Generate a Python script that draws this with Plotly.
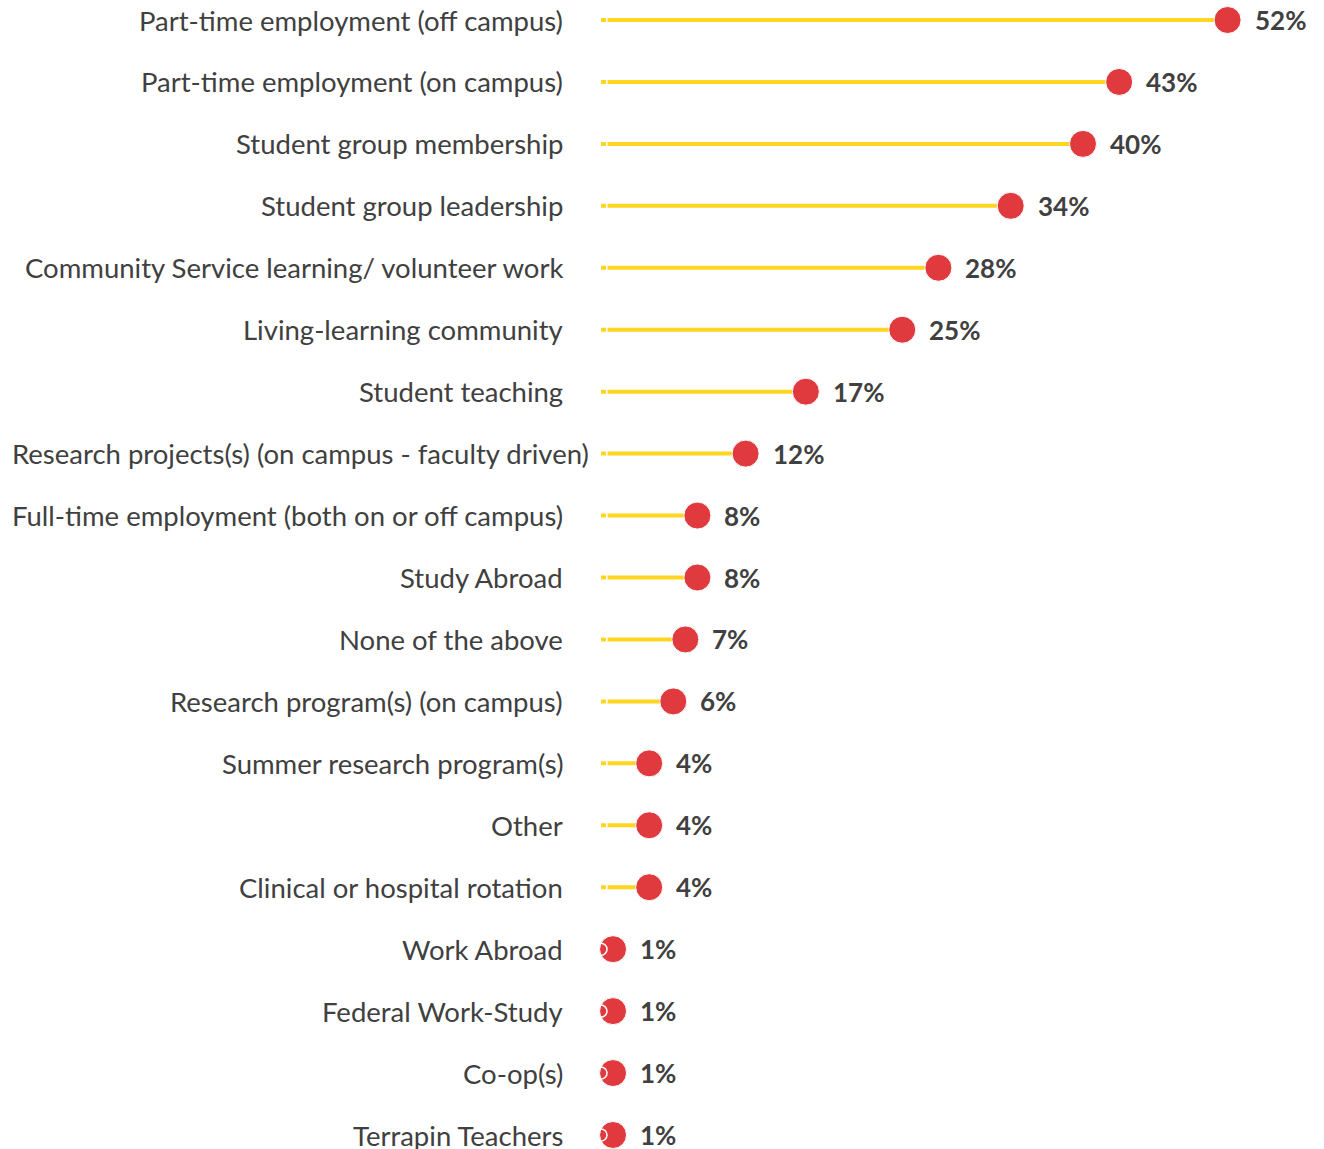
import plotly.graph_objects as go

categories = [
    "Part-time employment (off campus)",
    "Part-time employment (on campus)",
    "Student group membership",
    "Student group leadership",
    "Community Service learning/ volunteer work",
    "Living-learning community",
    "Student teaching",
    "Research projects(s) (on campus - faculty driven)",
    "Full-time employment (both on or off campus)",
    "Study Abroad",
    "None of the above",
    "Research program(s) (on campus)",
    "Summer research program(s)",
    "Other",
    "Clinical or hospital rotation",
    "Work Abroad",
    "Federal Work-Study",
    "Co-op(s)",
    "Terrapin Teachers",
]
values = [52, 43, 40, 34, 28, 25, 17, 12, 8, 8, 7, 6, 4, 4, 4, 1, 1, 1, 1]
value_labels = ["52%", "43%", "40%", "34%", "28%", "25%", "17%", "12%", "8%", "8%",
                "7%", "6%", "4%", "4%", "4%", "1%", "1%", "1%", "1%"]

YELLOW = "#FFD520"
RED = "#E0393E"
TEXT = "#404040"
FONT = "Lato"
MAX_LABEL_CHARS = 45  # labels longer than this overflow the label area and get left-aligned

ys = list(range(len(categories)))

lx, ly = [], []
for v, y in zip(values, ys):
    lx += [0, v, None]
    ly += [y, y, None]

fig = go.Figure()
fig.add_trace(go.Scatter(x=lx, y=ly, mode="lines",
                         line=dict(color=YELLOW, width=4),
                         hoverinfo="skip", showlegend=False, cliponaxis=False))
fig.add_trace(go.Scatter(x=values, y=ys, mode="markers",
                         marker=dict(color=RED, size=27, line=dict(color="white", width=1)),
                         showlegend=False, cliponaxis=False))
fig.add_trace(go.Scatter(x=[0] * len(ys), y=ys, mode="markers",
                         marker=dict(color="rgba(0,0,0,0)", size=12,
                                     line=dict(color="white", width=1.5)),
                         hoverinfo="skip", showlegend=False, cliponaxis=False))

for v, y, t in zip(values, ys, value_labels):
    fig.add_annotation(x=v, y=y, text="<b>" + t + "</b>", showarrow=False,
                       xanchor="left", xshift=25,
                       font=dict(family=FONT, size=26, color=TEXT))

for c, y in zip(categories, ys):
    if len(c) > MAX_LABEL_CHARS:
        fig.add_annotation(xref="paper", x=0, y=y, text=c, showarrow=False,
                           xanchor="left", xshift=-591,
                           font=dict(family=FONT, size=27.5, color=TEXT))
    else:
        fig.add_annotation(xref="paper", x=0, y=y, text=c, showarrow=False,
                           xanchor="right", xshift=-36,
                           font=dict(family=FONT, size=27.5, color=TEXT))

fig.update_layout(
    width=1324, height=1149,
    margin=dict(l=601, r=0, t=0, b=0, autoexpand=False),
    plot_bgcolor="white", paper_bgcolor="white",
    xaxis=dict(range=[0, 60], showgrid=False, zeroline=False, automargin=False,
               showticklabels=False, showline=False, ticks=""),
    yaxis=dict(range=[18.226, -0.323], showticklabels=False,
               showgrid=False, zeroline=False, showline=False, ticks="",
               automargin=False),
)

fig.write_html("out.html", config={"displayModeBar": False},
               post_script="document.body.style.margin='0';document.body.style.overflow='hidden';")
